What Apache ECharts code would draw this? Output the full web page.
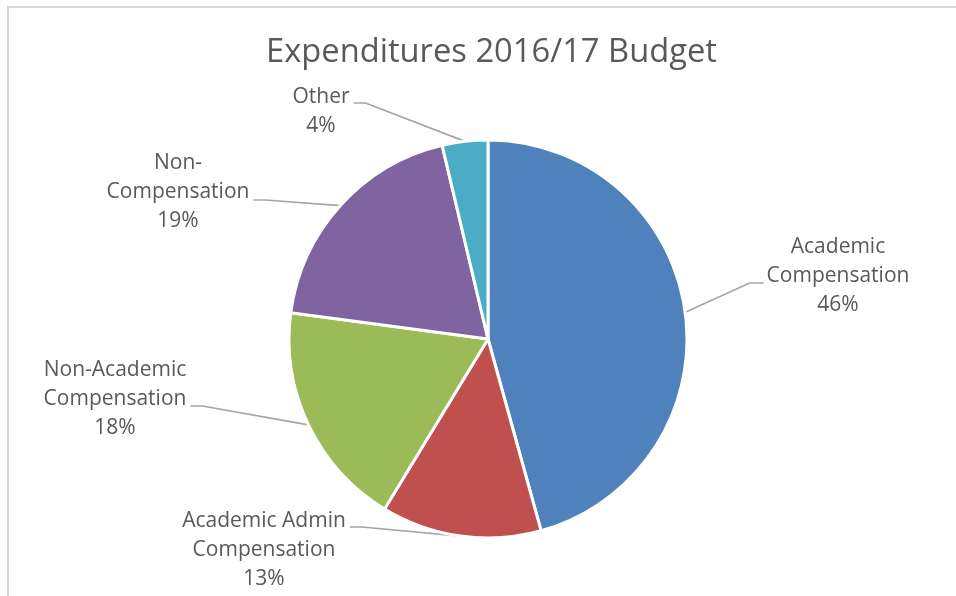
<!DOCTYPE html>
<html>
<head>
<meta charset="utf-8">
<script src="https://cdn.jsdelivr.net/npm/echarts@6/dist/echarts.min.js"></script>
<style>
  html, body { margin: 0; padding: 0; background: #ffffff; }
  #chart { width: 956px; height: 596px; }
</style>
</head>
<body>
<div id="chart"></div>
<script>
// ---- data ----
var titleText = 'Expenditures 2016/17 Budget';
var categories = [
  'Academic\nCompensation',
  'Academic Admin\nCompensation',
  'Non-Academic\nCompensation',
  'Non-\nCompensation',
  'Other'
];
var values = [45.7, 13.0, 18.4, 19.2, 3.7];

// ---- style / layout ----
var colors = ['#4F81BD', '#C0504D', '#9BBB59', '#8064A2', '#4BACC6'];
var textColor = '#595959';
var fontFamily = '"Open Sans", "Noto Sans", sans-serif';
var PIE_CENTER = [488, 339];
var PIE_RADIUS = 199;
// label block centres and leader-line heights (layout only)
var labelPlace = [
  { cx: 838, cy: 276, ly: 283 },
  { cx: 264, cy: 550, ly: 527 },
  { cx: 115, cy: 399, ly: 406 },
  { cx: 178, cy: 192, ly: 200 },
  { cx: 321, cy: 112, ly: 103 }
];

var chart = echarts.init(document.getElementById('chart'));

var seriesData = categories.map(function (c, i) {
  return { name: c, value: values[i], itemStyle: { color: colors[i] } };
});

function midPoint(idx) {
  var total = values.reduce(function (a, b) { return a + b; }, 0);
  var acc = 0;
  for (var k = 0; k < idx; k++) acc += values[k];
  var a = ((acc + values[idx] / 2) / total) * Math.PI * 2;
  return [PIE_CENTER[0] + PIE_RADIUS * Math.sin(a), PIE_CENTER[1] - PIE_RADIUS * Math.cos(a)];
}

chart.setOption({
  animation: false,
  backgroundColor: '#ffffff',
  title: {
    text: titleText,
    left: 261,
    top: 31,
    textStyle: { color: textColor, fontSize: 32.7, fontWeight: 'normal', fontFamily: fontFamily }
  },
  graphic: [{
    type: 'rect',
    silent: true,
    shape: { x: 8, y: 7, width: 1200, height: 800 },
    style: { fill: 'none', stroke: '#d9d9d9', lineWidth: 2 }
  }],
  series: [{
    type: 'pie',
    center: PIE_CENTER,
    radius: PIE_RADIUS,
    startAngle: 90,
    clockwise: true,
    avoidLabelOverlap: false,
    data: seriesData,
    itemStyle: { borderColor: '#ffffff', borderWidth: 3 },
    emphasis: { scale: false },
    label: {
      show: true,
      position: 'outside',
      color: textColor,
      fontFamily: fontFamily,
      fontSize: 21,
      lineHeight: 29,
      formatter: function (p) {
        return p.name + '\n' + Math.round(p.percent) + '%';
      }
    },
    labelLine: {
      show: true,
      length: 20,
      length2: 10,
      lineStyle: { color: '#a5a5a5', width: 1.7 }
    },
    labelLayout: function (params) {
      var i = params.dataIndex;
      var pl = labelPlace[i];
      var w = params.labelRect.width;
      var start = midPoint(i);
      var endX, elbowX;
      if (pl.cx > PIE_CENTER[0]) {
        endX = pl.cx - w / 2 - 3;
        elbowX = endX - 14;
      } else {
        endX = pl.cx + w / 2 + 4;
        elbowX = endX + 12;
      }
      return {
        x: pl.cx,
        y: pl.cy,
        align: 'center',
        verticalAlign: 'middle',
        labelLinePoints: [start, [elbowX, pl.ly], [endX, pl.ly]]
      };
    }
  }]
});
</script>
</body>
</html>
